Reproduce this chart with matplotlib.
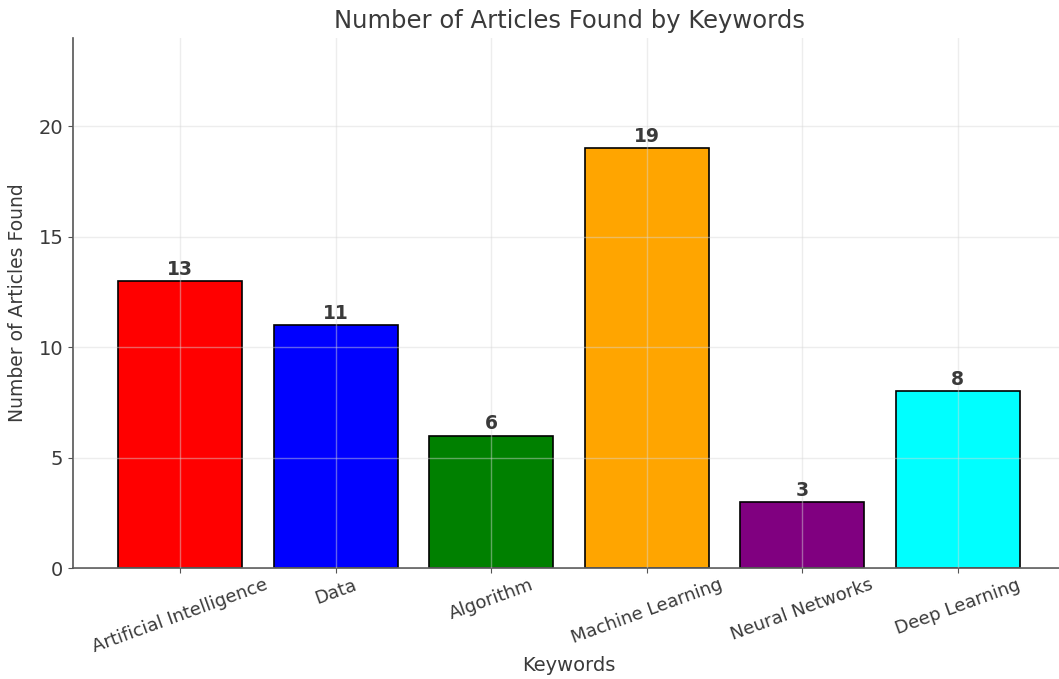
import matplotlib.pyplot as plt

keywords = ['Artificial Intelligence', 'Data', 'Algorithm', 'Machine Learning',
            'Neural Networks', 'Deep Learning']
counts = [13, 11, 6, 19, 3, 8]
bar_colors = ['red', 'blue', 'green', 'orange', 'purple', 'cyan']

text_color = '#3a3a3a'

fig = plt.figure(figsize=(10.59, 6.79), dpi=100)
ax = fig.add_axes([73 / 1059, 111 / 679, 992 / 1059, 530 / 679])

bars = ax.bar(keywords, counts, color=bar_colors, edgecolor='black', linewidth=1.2)
ax.set_ylim(0, 24)

for b, v in zip(bars, counts):
    ax.text(b.get_x() + b.get_width() / 2, v + 0.1, str(v), ha='center', va='bottom',
            fontsize=13.5, fontweight='bold', color=text_color)

ax.set_axisbelow(False)
ax.grid(True, color='#d8d8d8', alpha=0.45, linewidth=1)

ax.spines['top'].set_visible(False)
ax.spines['right'].set_visible(False)
for s in ('left', 'bottom'):
    ax.spines[s].set_color('#555555')
    ax.spines[s].set_linewidth(1.2)

ax.set_yticks([0, 5, 10, 15, 20])
ax.tick_params(axis='both', colors='#555555', labelcolor=text_color, labelsize=14)
ax.tick_params(axis='x', pad=2)
plt.setp(ax.get_xticklabels(), rotation=20, fontsize=13)

ax.set_title('Number of Articles Found by Keywords', fontsize=17.5, color=text_color, pad=7)
ax.set_xlabel('Keywords', fontsize=14, color=text_color, labelpad=0)
ax.set_ylabel('Number of Articles Found', fontsize=13.5, color=text_color, labelpad=8)

fig.savefig('out.png', dpi=100)
